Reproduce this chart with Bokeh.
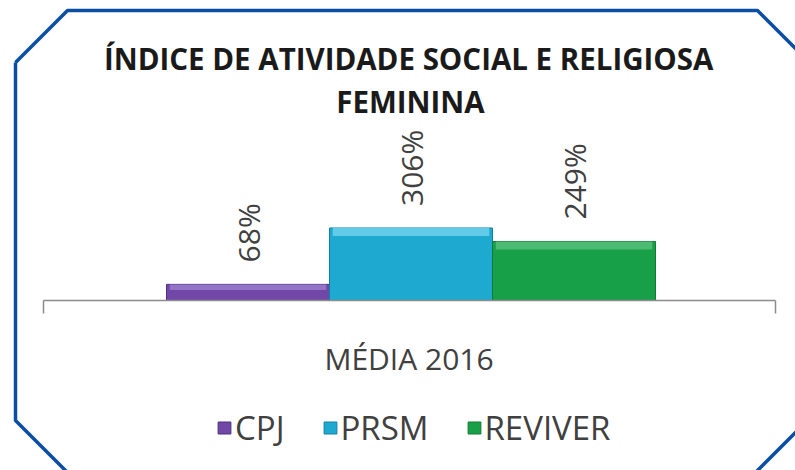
import math
from bokeh.plotting import figure
from bokeh.models import Range1d, ColumnDataSource, Legend, LegendItem
from bokeh.core.properties import value
from bokeh.embed import file_html
from bokeh.resources import INLINE

# ---- data ----
categories = ["CPJ", "PRSM", "REVIVER"]
values = [68, 306, 249]
labels = ["68%", "306%", "249%"]
colors = ["#7148a8", "#1eaad0", "#17a047"]
highlight_colors = ["#9474c6", "#62cbe8", "#4cba72"]
edge_colors = ["#4e2f7d", "#14809f", "#137a36"]
group_label = "MÉDIA 2016"
title_line1 = "ÍNDICE DE ATIVIDADE  SOCIAL E RELIGIOSA"
title_line2 = "FEMININA"

W, H = 795, 470
p = figure(width=W, height=H, output_backend="svg", toolbar_location=None,
           x_range=Range1d(0, W), y_range=Range1d(H, 0), min_border=0,
           x_axis_location=None, y_axis_location=None, outline_line_color=None,
           background_fill_color="white", border_fill_color="white")
p.xgrid.visible = False
p.ygrid.visible = False

# value scale for bars: baseline at y=300 (from top)
base_y = 300
px_per_unit = 0.237
p.extra_y_ranges = {"val": Range1d(-(H - base_y) / px_per_unit, base_y / px_per_unit)}
bar_px = 163.0
center_px = 410.5
xs = -center_px / bar_px + 1
p.extra_x_ranges = {"bars": Range1d(xs, xs + W / bar_px)}

# bevel band (style): a lighter strip at the top of each bar
band = [min(8.0, 0.35 * v * px_per_unit) / px_per_unit for v in values]
src = ColumnDataSource(dict(idx=list(range(len(categories))), cat=categories, val=values,
                            band_bottom=[v - b for v, b in zip(values, band)],
                            lab=labels, col=colors, hcol=highlight_colors, ecol=edge_colors))

# octagon frame
fx = [15, 67, 757, 811, 811, 747, 75, 15, 15]
fy = [62, 10, 10, 64, 416, 480, 480, 420, 62]
p.line(fx, fy, line_color="#0a4fa3", line_width=3.5)

# bars
bars = p.vbar(x="idx", top="val", bottom=0, width=1.0, source=src,
              fill_color="col", line_color="ecol", line_width=1,
              x_range_name="bars", y_range_name="val")
p.vbar(x="idx", top="val", bottom="band_bottom", width=0.96, source=src,
       fill_color="hcol", line_color=None, x_range_name="bars", y_range_name="val")

# axis line with end ticks
p.segment(x0=[43, 43, 775], y0=[300, 300, 300], x1=[775, 43, 775], y1=[300, 313, 313],
          line_color="#8c8c8c", line_width=1.5)

# value labels (rotated)
p.text(x="idx", y="val", text="lab", source=src, angle=math.pi / 2,
       text_align="left", text_baseline="middle", y_offset=-22,
       text_font=value("Open Sans"), text_font_size="30px", text_color="#404040",
       x_range_name="bars", y_range_name="val")

# titles
p.text(x=[412], y=[58], text=[title_line1], text_align="center", text_baseline="alphabetic",
       text_font=value("Open Sans"), text_font_style="bold", text_font_size="29.5px",
       text_color="#1a1a1a")
p.text(x=[410], y=[101], text=[title_line2], text_align="center", text_baseline="alphabetic",
       text_font=value("Open Sans"), text_font_style="bold", text_font_size="29.5px",
       text_color="#1a1a1a")

# category label
p.text(x=[408.5], y=[358], text=[group_label], text_align="center", text_baseline="alphabetic",
       text_font=value("Open Sans"), text_font_size="30px", text_color="#404040")

# legend
items = [LegendItem(label=c, renderers=[bars], index=i) for i, c in enumerate(categories)]
legend = Legend(items=items, orientation="horizontal", location=(216, 20),
                glyph_width=16, glyph_height=15, label_standoff=3, spacing=37,
                padding=0, margin=0, border_line_alpha=0, background_fill_alpha=0,
                label_text_font="Open Sans", label_text_font_size="33px",
                label_text_color="#404040")
p.add_layout(legend, "center")

open("out.html", "w").write(file_html(p, INLINE))
